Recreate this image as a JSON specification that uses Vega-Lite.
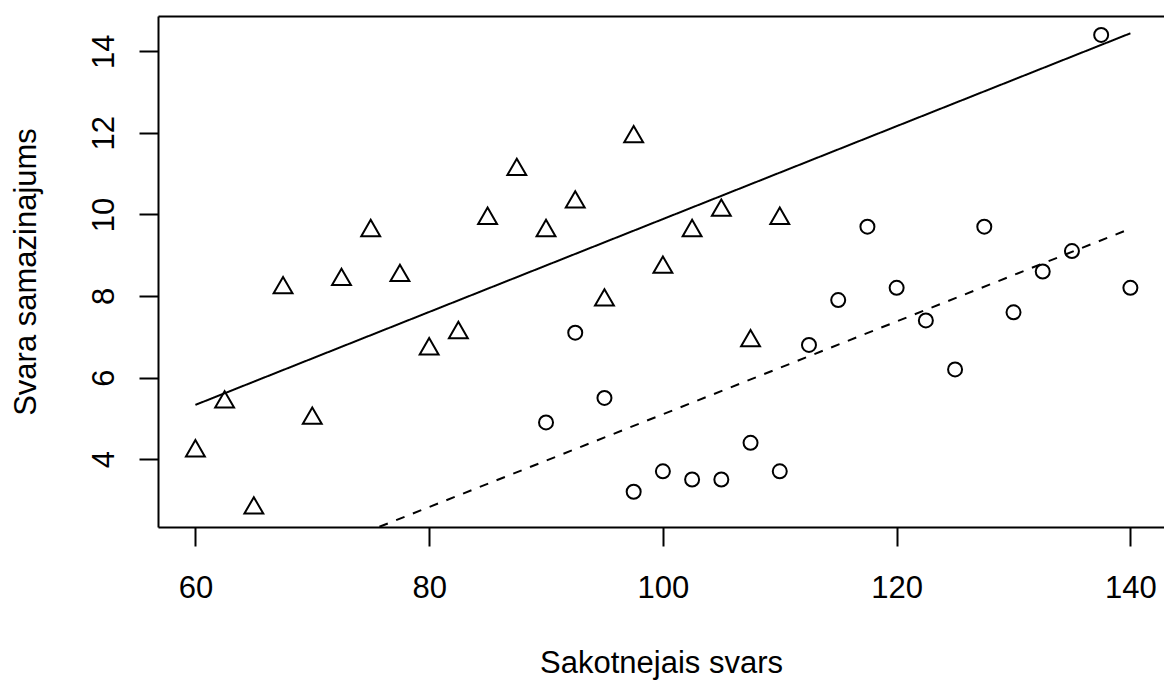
{
  "$schema": "https://vega.github.io/schema/vega-lite/v6.json",
  "autosize": "none",
  "width": 1006,
  "height": 511,
  "padding": {"left": 158, "top": 16, "right": 0, "bottom": 156},
  "background": "white",
  "config": {"view": {"stroke": null}, "font": "Liberation Sans"},
  "datasets": {
    "points": [
      {"x": 60, "y": 4.2, "g": "A"},
      {"x": 62.5, "y": 5.4, "g": "A"},
      {"x": 65, "y": 2.8, "g": "A"},
      {"x": 67.5, "y": 8.2, "g": "A"},
      {"x": 70, "y": 5.0, "g": "A"},
      {"x": 72.5, "y": 8.4, "g": "A"},
      {"x": 75, "y": 9.6, "g": "A"},
      {"x": 77.5, "y": 8.5, "g": "A"},
      {"x": 80, "y": 6.7, "g": "A"},
      {"x": 82.5, "y": 7.1, "g": "A"},
      {"x": 85, "y": 9.9, "g": "A"},
      {"x": 87.5, "y": 11.1, "g": "A"},
      {"x": 90, "y": 9.6, "g": "A"},
      {"x": 92.5, "y": 10.3, "g": "A"},
      {"x": 95, "y": 7.9, "g": "A"},
      {"x": 97.5, "y": 11.9, "g": "A"},
      {"x": 100, "y": 8.7, "g": "A"},
      {"x": 102.5, "y": 9.6, "g": "A"},
      {"x": 105, "y": 10.1, "g": "A"},
      {"x": 107.5, "y": 6.9, "g": "A"},
      {"x": 110, "y": 9.9, "g": "A"},
      {"x": 90, "y": 4.9, "g": "B"},
      {"x": 92.5, "y": 7.1, "g": "B"},
      {"x": 95, "y": 5.5, "g": "B"},
      {"x": 97.5, "y": 3.2, "g": "B"},
      {"x": 100, "y": 3.7, "g": "B"},
      {"x": 102.5, "y": 3.5, "g": "B"},
      {"x": 105, "y": 3.5, "g": "B"},
      {"x": 107.5, "y": 4.4, "g": "B"},
      {"x": 110, "y": 3.7, "g": "B"},
      {"x": 112.5, "y": 6.8, "g": "B"},
      {"x": 115, "y": 7.9, "g": "B"},
      {"x": 117.5, "y": 9.7, "g": "B"},
      {"x": 120, "y": 8.2, "g": "B"},
      {"x": 122.5, "y": 7.4, "g": "B"},
      {"x": 125, "y": 6.2, "g": "B"},
      {"x": 127.5, "y": 9.7, "g": "B"},
      {"x": 130, "y": 7.6, "g": "B"},
      {"x": 132.5, "y": 8.6, "g": "B"},
      {"x": 135, "y": 9.1, "g": "B"},
      {"x": 137.5, "y": 14.4, "g": "B"},
      {"x": 140, "y": 8.2, "g": "B"}
    ],
    "lines": [
      {"x": 60, "y": 5.33, "g": "A"},
      {"x": 140, "y": 14.44, "g": "A"},
      {"x": 60, "y": 0.55, "g": "B"},
      {"x": 140, "y": 9.65, "g": "B"}
    ]
  },
  "layer": [
    {
      "data": {"name": "lines"},
      "mark": {"type": "line", "clip": true, "color": "black", "strokeWidth": 2},
      "encoding": {
        "x": {
          "field": "x", "type": "quantitative",
          "scale": {"domain": [56.8, 142.876], "nice": false, "zero": false},
          "axis": {
            "orient": "bottom", "values": [60, 80, 100, 120, 140], "grid": false,
            "domain": true, "domainColor": "black", "domainWidth": 2,
            "ticks": true, "tickColor": "black", "tickWidth": 2, "tickSize": 19,
            "labelFontSize": 31, "labelColor": "black", "labelBaseline": "alphabetic", "labelPadding": 51,
            "labelFlush": false, "labelOverlap": false,
            "title": "Sakotnejais svars", "titleFontSize": 31, "titleFontWeight": "normal", "titleColor": "black",
            "titleBaseline": "alphabetic", "titleY": 145
          }
        },
        "y": {
          "field": "y", "type": "quantitative",
          "scale": {"domain": [2.336, 14.864], "nice": false, "zero": false},
          "axis": {
            "orient": "left", "values": [4, 6, 8, 10, 12, 14], "grid": false,
            "domain": true, "domainColor": "black", "domainWidth": 2,
            "ticks": true, "tickColor": "black", "tickWidth": 2, "tickSize": 19,
            "labelFontSize": 31, "labelColor": "black", "labelAngle": -90, "labelAlign": "center",
            "labelBaseline": "alphabetic", "labelPadding": 26, "labelFlush": false, "labelOverlap": false,
            "title": "Svara samazinajums", "titleFontSize": 31, "titleFontWeight": "normal", "titleColor": "black",
            "titleAngle": -90, "titleAlign": "center", "titleBaseline": "alphabetic", "titleX": -123, "titleY": 255.5
          }
        },
        "strokeDash": {
          "field": "g", "type": "nominal",
          "scale": {"domain": ["A", "B"], "range": [[1, 0], [9, 9]]},
          "legend": null
        }
      }
    },
    {
      "data": {"name": "points"},
      "transform": [{"filter": "datum.g === 'A'"}],
      "mark": {"type": "point", "shape": "M0,-1.1547L1,0.5774L-1,0.5774Z", "filled": false, "stroke": "black", "strokeWidth": 2, "opacity": 1, "size": 356},
      "encoding": {
        "x": {"field": "x", "type": "quantitative", "axis": null},
        "y": {"field": "y", "type": "quantitative"}
      }
    },
    {
      "data": {"name": "points"},
      "transform": [{"filter": "datum.g === 'B'"}],
      "mark": {"type": "point", "shape": "circle", "filled": false, "stroke": "black", "strokeWidth": 2, "opacity": 1, "size": 196},
      "encoding": {
        "x": {"field": "x", "type": "quantitative", "axis": null},
        "y": {"field": "y", "type": "quantitative"}
      }
    },
    {
      "data": {"name": "points"},
      "mark": {"type": "point", "opacity": 0},
      "encoding": {
        "x": {
          "field": "x", "type": "quantitative",
          "axis": {"orient": "top", "domain": true, "domainColor": "black", "domainWidth": 2, "ticks": false, "labels": false, "grid": false, "title": null}
        },
        "y": {"field": "y", "type": "quantitative"}
      }
    }
  ],
  "resolve": {"axis": {"x": "independent"}}
}
